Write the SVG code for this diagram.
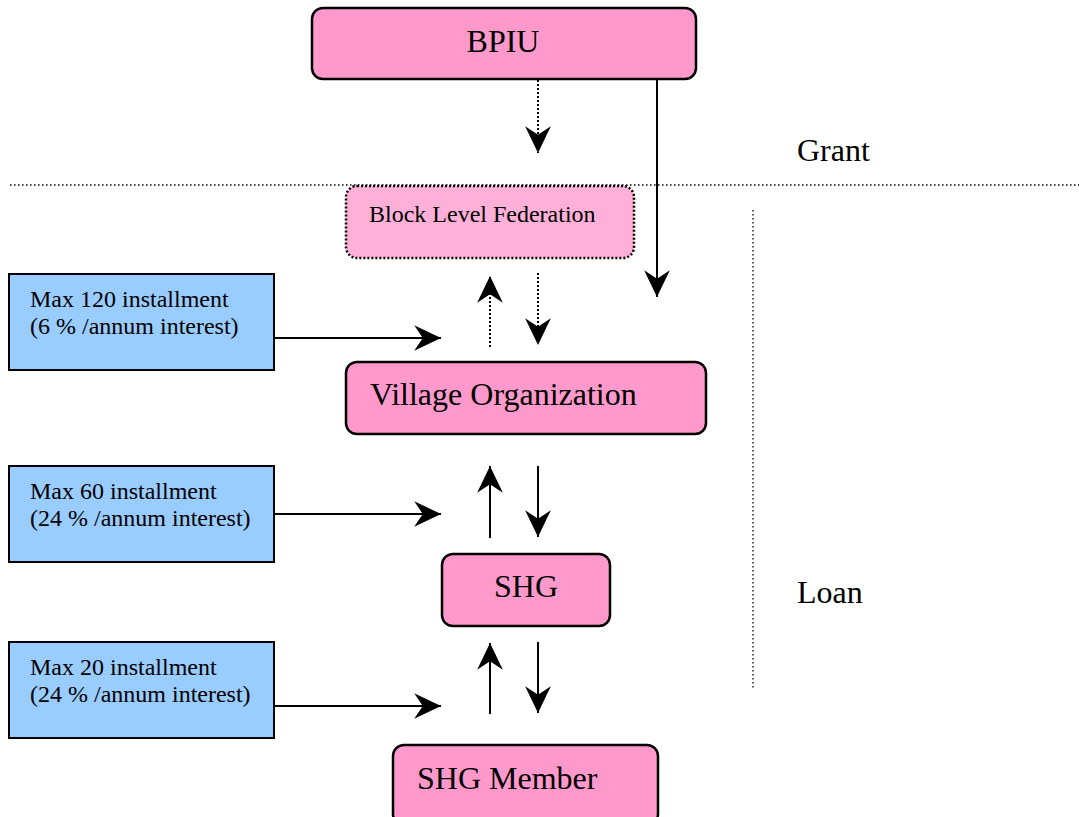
<svg xmlns="http://www.w3.org/2000/svg" width="1079" height="817" viewBox="0 0 1079 817">
  <style>
    .node { fill: #FF99CC; stroke: #000; stroke-width: 2.5; }
    .fed { fill: #FFB0D8; stroke: #000; stroke-width: 2.5; stroke-dasharray: 2 2; }
    .rate { fill: #99CCFF; stroke: #000; stroke-width: 2; }
    .t { font-family: "Liberation Serif", "Times New Roman", serif; fill: #000; }
    .big { font-size: 32px; }
    .small { font-size: 24px; }
    .side { font-size: 32px; }
    .line { stroke: #000; stroke-width: 2; fill: none; }
    .dot { stroke: #000; stroke-width: 2; fill: none; stroke-dasharray: 2 2; }
    .sep { stroke: #000; stroke-width: 1.3; fill: none; stroke-dasharray: 1.5 2.5; }
  </style>
  <defs>
    <marker id="head" markerUnits="userSpaceOnUse" markerWidth="30" markerHeight="30" viewBox="-26 -14 28 28" refX="0" refY="0" orient="auto">
      <path d="M0,0 L-25,-12 L-17,0 L-25,12 Z" fill="#000"/>
    </marker>
  </defs>

  <rect width="1079" height="817" fill="#fff"/>

  <!-- section dividers and labels -->
  <g id="sections">
    <line class="sep" x1="10" y1="185" x2="1079" y2="185"/>
    <line class="sep" x1="753" y1="210" x2="753" y2="688"/>
    <text class="t side" x="797" y="161">Grant</text>
    <text class="t side" x="797" y="603">Loan</text>
  </g>

  <g id="bpiu">
    <rect class="node" x="312" y="8" width="384" height="71" rx="11"/>
    <text class="t big" x="503" y="52" text-anchor="middle">BPIU</text>
  </g>

  <g id="federation">
    <rect class="fed" x="346" y="186" width="288" height="72" rx="11"/>
    <text class="t small" x="369" y="222">Block Level Federation</text>
  </g>

  <g id="village">
    <rect class="node" x="346" y="362" width="360" height="72" rx="11"/>
    <text class="t big" x="370" y="405">Village Organization</text>
  </g>

  <g id="shg">
    <rect class="node" x="442" y="554" width="168" height="72" rx="11"/>
    <text class="t big" x="526" y="597" text-anchor="middle">SHG</text>
  </g>

  <g id="member">
    <rect class="node" x="393" y="745" width="265" height="80" rx="11"/>
    <text class="t big" x="417" y="789">SHG Member</text>
  </g>

  <g id="rate-vo">
    <rect class="rate" x="9" y="274" width="265" height="96"/>
    <text class="t small" x="30" y="307">Max 120 installment</text>
    <text class="t small" x="30" y="334">(6 % /annum interest)</text>
  </g>

  <g id="rate-shg">
    <rect class="rate" x="9" y="466" width="265" height="96"/>
    <text class="t small" x="30" y="499">Max 60 installment</text>
    <text class="t small" x="30" y="526">(24 % /annum interest)</text>
  </g>

  <g id="rate-member">
    <rect class="rate" x="9" y="642" width="265" height="96"/>
    <text class="t small" x="30" y="675">Max 20 installment</text>
    <text class="t small" x="30" y="702">(24 % /annum interest)</text>
  </g>

  <g id="connectors">
    <!-- grant flows -->
    <line class="dot" x1="538" y1="80" x2="538" y2="153" marker-end="url(#head)"/>
    <line class="line" x1="657" y1="80" x2="657" y2="297" marker-end="url(#head)"/>
    <!-- federation <-> village organization -->
    <line class="dot" x1="490" y1="347" x2="490" y2="276" marker-end="url(#head)"/>
    <line class="dot" x1="538" y1="273" x2="538" y2="345" marker-end="url(#head)"/>
    <!-- village organization <-> SHG -->
    <line class="line" x1="490" y1="538" x2="490" y2="466" marker-end="url(#head)"/>
    <line class="line" x1="538" y1="466" x2="538" y2="537" marker-end="url(#head)"/>
    <!-- SHG <-> member -->
    <line class="line" x1="490" y1="714" x2="490" y2="643" marker-end="url(#head)"/>
    <line class="line" x1="538" y1="642" x2="538" y2="713" marker-end="url(#head)"/>
    <!-- rate notes -->
    <line class="line" x1="274" y1="338" x2="441" y2="338" marker-end="url(#head)"/>
    <line class="line" x1="274" y1="514" x2="441" y2="514" marker-end="url(#head)"/>
    <line class="line" x1="274" y1="706" x2="441" y2="706" marker-end="url(#head)"/>
  </g>
</svg>
